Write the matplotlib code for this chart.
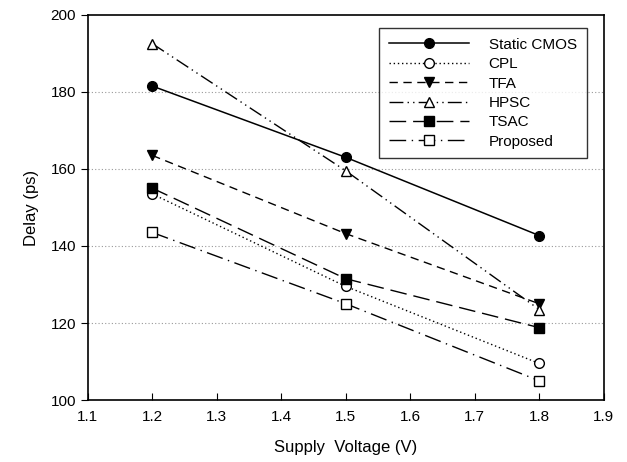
import matplotlib
matplotlib.use("Agg")
import matplotlib.pyplot as plt

plt.rcParams['font.family'] = ['Liberation Sans', 'DejaVu Sans']

# 供應電壓
voltage = [1.2, 1.5, 1.8]

static_cmos = [181.5, 163.0, 142.7]
cpl = [153.5, 129.5, 109.5]
tfa = [163.5, 143.2, 125.0]
hpsc = [192.5, 159.5, 123.5]
tsac = [155.0, 131.5, 118.8]
proposed = [143.5, 125.0, 105.0]

x_ticks = [1.1, 1.2, 1.3, 1.4, 1.5, 1.6, 1.7, 1.8, 1.9]
y_ticks = [100, 120, 140, 160, 180, 200]

fig = plt.figure(figsize=(6.27, 4.62), dpi=100)
ax = fig.add_axes([0.140, 0.134, 0.823, 0.834])

# 背景的點狀格線
for yv in y_ticks[1:-1]:
    ax.axhline(yv, color='#999999', linestyle=(0, (1, 2)), linewidth=0.8, zorder=0)

ax.plot(voltage, static_cmos, color='black', linestyle='-', linewidth=1.1,
        marker='o', markersize=7, markerfacecolor='black', label='Static CMOS')
ax.plot(voltage, cpl, color='black', linestyle=(0, (1, 2)), linewidth=1.0,
        marker='o', markersize=7, markerfacecolor='white', label='CPL')
ax.plot(voltage, tfa, color='black', linestyle=(0, (6, 4)), linewidth=1.0,
        marker='v', markersize=7, markerfacecolor='black', label='TFA')
ax.plot(voltage, hpsc, color='black', linestyle=(0, (10, 3, 1, 3, 1, 3)), linewidth=1.0,
        marker='^', markersize=7, markerfacecolor='white', label='HPSC')
ax.plot(voltage, tsac, color='black', linestyle=(0, (12, 5)), linewidth=1.0,
        marker='s', markersize=6.5, markerfacecolor='black', label='TSAC')
ax.plot(voltage, proposed, color='black', linestyle=(0, (12, 4, 1, 4)), linewidth=1.0,
        marker='s', markersize=6.5, markerfacecolor='white', label='Proposed')

ax.set_xlim(1.1, 1.9)
ax.set_ylim(100, 200)
ax.set_xticks(x_ticks)
ax.set_yticks(y_ticks)
ax.set_xticklabels([str(v) for v in x_ticks])
ax.tick_params(axis='x', direction='in', length=5, labelsize=11, pad=7)
ax.tick_params(axis='y', direction='out', length=5, labelsize=11)

for s in ax.spines.values():
    s.set_linewidth(1.2)

ax.set_xlabel('Supply  Voltage (V)', fontsize=12, labelpad=12)
ax.set_ylabel('Delay (ps)', fontsize=12, labelpad=8)

leg = ax.legend(loc='upper right', bbox_to_anchor=(0.967, 0.966), borderaxespad=0,
                handlelength=5.2, fontsize=11, frameon=True, fancybox=False,
                edgecolor='black', borderpad=0.65, labelspacing=0.35, handletextpad=1.3)
leg.get_frame().set_linewidth(1.0)

plt.savefig('out.png', dpi=100)
